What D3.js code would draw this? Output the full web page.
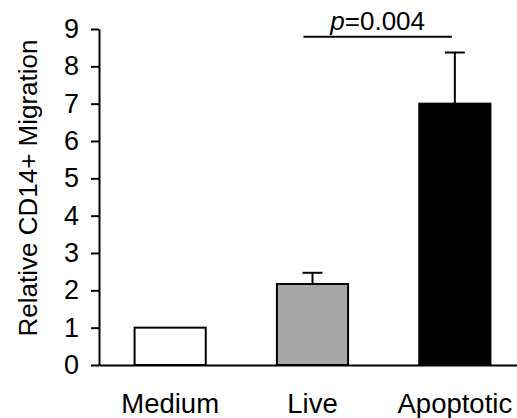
<!DOCTYPE html>
<html>
<head>
<meta charset="utf-8">
<script src="https://cdn.jsdelivr.net/npm/d3@7"></script>
<style>
  body { margin: 0; background: #fff; }
  svg text { font-family: Arial, "Liberation Sans", sans-serif; fill: #000; }
</style>
</head>
<body>
<div id="chart"></div>
<script>
// Values
const categories = ['Medium', 'Live', 'Apoptotic'];
const means = [1.0, 2.17, 7.0];
const errors = [0, 0.3, 1.37];
const fills = ['#ffffff', '#a6a6a6', '#000000'];
const yTicks = [0, 1, 2, 3, 4, 5, 6, 7, 8, 9];
const comparison = { from: 'Live', to: 'Apoptotic', label: '=0.004', level: 9.0 };

const width = 517;
const height = 418;
const margin = { top: 29, right: -9, bottom: 53, left: 99 };

const svg = d3.select('#chart').append('svg')
    .attr('width', width)
    .attr('height', height);

const x = d3.scaleBand()
    .domain(categories)
    .range([margin.left, width - margin.right])
    .paddingInner(0.5)
    .paddingOuter(0.25);

const y = d3.scaleLinear()
    .domain([0, 9])
    .range([height - margin.bottom, margin.top]);

// Y axis
const yAxis = svg.append('g')
    .attr('transform', `translate(${margin.left},0)`)
    .call(d3.axisLeft(y).tickValues(yTicks).tickSize(8).tickSizeOuter(0).tickPadding(12));
yAxis.selectAll('path, line').attr('stroke', '#000').attr('stroke-width', 2);
yAxis.selectAll('text').style('font-size', '27px');

// X axis (baseline runs off the right edge)
const xAxis = svg.append('g')
    .attr('transform', `translate(0,${y(0)})`)
    .call(d3.axisBottom(x).tickSize(0).tickSizeOuter(0).tickPadding(28));
xAxis.select('path').attr('stroke', '#000').attr('stroke-width', 2);
xAxis.selectAll('text').style('font-size', '27.5px');

// Error bars (upper only)
const err = svg.append('g').attr('stroke', '#000').attr('stroke-width', 2);
categories.forEach((c, i) => {
  if (!errors[i]) return;
  const cx = x(c) + x.bandwidth() / 2;
  err.append('line')
      .attr('x1', cx).attr('x2', cx)
      .attr('y1', y(means[i])).attr('y2', y(means[i] + errors[i]));
  err.append('line')
      .attr('x1', cx - 10).attr('x2', cx + 10)
      .attr('y1', y(means[i] + errors[i])).attr('y2', y(means[i] + errors[i]));
});

// Bars
svg.append('g').selectAll('rect')
  .data(categories)
  .join('rect')
    .attr('x', d => x(d))
    .attr('y', (d, i) => y(means[i]))
    .attr('width', x.bandwidth())
    .attr('height', (d, i) => y(0) - y(means[i]))
    .attr('fill', (d, i) => fills[i])
    .attr('stroke', '#000')
    .attr('stroke-width', 2);

// Significance line and label
const x1 = x(comparison.from) + x.bandwidth() / 2 - 9;
const x2 = x(comparison.to) + x.bandwidth() / 2 - 3;
const ly = y(comparison.level) + 7.7;
svg.append('line')
    .attr('x1', x1).attr('x2', x2)
    .attr('y1', ly).attr('y2', ly)
    .attr('stroke', '#000').attr('stroke-width', 2);
const pText = svg.append('text')
    .attr('x', (x1 + x2) / 2)
    .attr('y', ly - 7)
    .attr('text-anchor', 'middle')
    .style('font-size', '26px');
pText.append('tspan').style('font-style', 'italic').text('p');
pText.append('tspan').text(comparison.label);

// Y label
svg.append('text')
    .attr('transform', `translate(37,${(y(0) + y(9)) / 2 - 9}) rotate(-90)`)
    .attr('text-anchor', 'middle')
    .style('font-size', '26px')
    .text('Relative CD14+ Migration');
</script>
</body>
</html>
